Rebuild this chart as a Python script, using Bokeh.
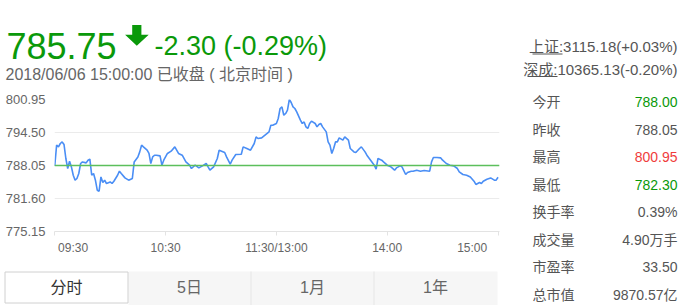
from bokeh.plotting import figure
from bokeh.layouts import row, column
from bokeh.models import (Label, Span, BoxAnnotation, PolyAnnotation, FixedTicker,
                          NumeralTickFormatter, Range1d)
from bokeh.embed import file_html
from bokeh.resources import INLINE

# ---------------- data ----------------
minutes = [0, 1, 2, 3, 4, 5, 6, 7, 8, 9, 10, 11, 12, 13, 14, 15, 17, 18, 19, 20,
           21, 22, 23, 24, 25, 26, 27, 28, 30, 31, 32, 34, 35, 36, 38, 40, 42, 43, 45, 46,
           47, 48, 50, 51, 52, 53, 54, 55, 57, 58, 59, 61, 63, 65, 67, 69, 71, 73, 74, 76,
           78, 80, 82, 83, 84, 86, 88, 89, 92, 93, 95, 96, 98, 101, 102, 104, 106, 108, 109, 110,
           112, 115, 116, 117, 118, 120, 121, 122, 123, 124, 125, 126, 127, 128, 129, 130, 131, 133, 134, 135,
           136, 137, 138, 139, 141, 142, 143, 144, 145, 147, 148, 149, 150, 151, 152, 153, 154, 156, 157, 159,
           160, 162, 163, 165, 166, 168, 169, 171, 173, 174, 175, 177, 178, 180, 182, 184, 185, 187, 188, 190,
           191, 193, 194, 196, 198, 200, 203, 204, 205, 207, 209, 210, 212, 214, 216, 218, 219, 221, 223, 225,
           227, 228, 230, 231, 232, 234, 236, 238, 239, 240]
prices = [788.00, 792.02, 791.69, 792.35, 792.66, 792.16, 789.42, 787.46, 788.89, 787.78,
          786.15, 785.18, 785.51, 786.49, 788.44, 788.75, 788.56, 789.09, 789.28, 786.15,
          786.49, 785.18, 783.22, 783.03, 785.82, 784.73, 785.18, 784.53, 784.84, 784.53,
          784.98, 786.15, 786.94, 786.49, 785.63, 785.18, 785.51, 788.75, 789.73, 790.71,
          792.02, 791.69, 791.04, 790.40, 788.44, 789.73, 790.06, 790.06, 789.93, 788.11,
          789.09, 790.40, 790.85, 791.69, 790.40, 790.06, 788.75, 788.11, 787.46, 788.11,
          787.58, 787.97, 788.44, 787.78, 787.13, 787.78, 789.42, 791.04, 790.59, 789.73,
          788.30, 789.09, 790.20, 790.26, 791.69, 791.37, 791.04, 792.35, 793.64, 793.33,
          793.45, 794.31, 794.62, 795.93, 795.93, 796.26, 797.24, 799.19, 799.50, 797.88,
          798.21, 798.86, 800.95, 800.37, 799.50, 799.19, 798.53, 796.91, 796.26, 796.57,
          795.60, 795.28, 796.26, 796.71, 796.26, 795.60, 796.07, 796.26, 795.60, 794.62,
          792.66, 792.02, 790.40, 791.37, 792.66, 792.66, 793.45, 793.00, 793.64, 793.00,
          791.37, 790.71, 790.59, 791.37, 791.69, 790.71, 790.06, 789.09, 788.11, 787.33,
          789.42, 789.09, 788.75, 788.11, 787.78, 787.13, 787.58, 787.97, 787.78, 786.29,
          786.68, 786.94, 786.94, 787.13, 786.94, 787.07, 786.94, 788.75, 789.61, 789.61,
          789.54, 789.09, 788.44, 788.11, 787.97, 787.46, 786.80, 786.29, 786.15, 785.82,
          784.98, 784.34, 784.73, 784.53, 784.98, 785.37, 785.63, 785.18, 785.18, 785.75]
assert len(minutes) == len(prices)

prev_close = 788.05
last_price = 785.75
change = -2.30
change_pct = -0.29
timestamp = "2018/06/06 15:00:00"
status = "已收盘 ( 北京时间 )"

y_ticks = [775.15, 781.60, 788.05, 794.50, 800.95]
x_ticks = [0, 60, 120, 180, 240]
x_tick_labels = ["09:30", "10:30", "11:30/13:00", "14:00", "15:00"]

index_lines = ["上证:3115.18(+0.03%)", "深成:10365.13(-0.20%)"]
panel_labels = ["今开", "昨收", "最高", "最低", "换手率", "成交量", "市盈率", "总市值"]
panel_values = ["788.00", "788.05", "800.95", "782.30", "0.39%", "4.90万手", "33.50", "9870.57亿"]
tabs = ["分时", "5日", "1月", "1年"]

# ---------------- styles ----------------
GREEN = "#0a990a"
RED = "#f03c3c"
GREY = "#666666"
DARK = "#555555"
FONT = "Liberation Sans, Noto Sans CJK SC"
value_colors = [GREEN, DARK, RED, GREEN, DARK, DARK, DARK, DARK]
NB = "\u00a0"


def blank(w, h):
    f = figure(width=w, height=h, output_backend="svg", toolbar_location=None,
               x_axis_location=None, y_axis_location=None,
               x_range=Range1d(0, 1), y_range=Range1d(0, 1), min_border=0)
    f.outline_line_color = None
    f.grid.grid_line_color = None
    f.background_fill_color = "white"
    f.border_fill_color = "white"
    return f


def put(f, ox, oy, text, X, Y, size, color, align="left", baseline="middle"):
    h = f.height
    f.add_layout(Label(x=X - ox, y=oy + h - Y, x_units="screen", y_units="screen", text=text,
                       text_font=FONT, text_font_size=f"{size}px", text_color=color,
                       text_align=align, text_baseline=baseline))


def box(f, ox, oy, x0, y0, x1, y1, fill, line=None):
    h = f.height
    f.add_layout(BoxAnnotation(left=x0 - ox, right=x1 - ox, top=oy + h - y0, bottom=oy + h - y1,
                               left_units="screen", right_units="screen",
                               top_units="screen", bottom_units="screen",
                               fill_color=fill, fill_alpha=1,
                               line_color=line if line else fill, line_alpha=1 if line else 0,
                               line_width=1))


# ---------------- header ----------------
LW = 520
HH = 85
hdr = blank(LW, HH)
put(hdr, 0, 0, f"{last_price:.2f}", 6, 45, 36, GREEN, baseline="alphabetic")
ax = [131.7, 140.9, 140.9, 148.2, 136.3, 124.6, 131.7, 131.7]
ay = [24.5, 24.5, 34.3, 34.3, 45.2, 34.3, 34.3, 24.5]
hdr.add_layout(PolyAnnotation(xs=ax, ys=[HH - y for y in ay],
                              xs_units="screen", ys_units="screen",
                              fill_color=GREEN, fill_alpha=1, line_color=None))
put(hdr, 0, 0, f"{change:.2f} ({change_pct:.2f}%)", 154, 45, 27, GREEN, baseline="alphabetic")
put(hdr, 0, 0, f"{timestamp}  {status}", 5, 73.5, 16, GREY, baseline="alphabetic")

# ---------------- chart ----------------
CT, CB = HH, 265
FL, FR, FT, FB = 54, 499, 99, 231
p = figure(width=LW, height=CB - CT, output_backend="svg", toolbar_location=None,
           x_range=Range1d(-0.15, 240.8), y_range=Range1d(y_ticks[0], y_ticks[-1]),
           min_border_left=FL, min_border_right=LW - FR,
           min_border_top=FT - CT, min_border_bottom=CB - FB)
p.outline_line_color = None
p.background_fill_color = "white"
p.border_fill_color = "white"

p.yaxis.ticker = FixedTicker(ticks=y_ticks)
p.yaxis.formatter = NumeralTickFormatter(format="0.00")
p.yaxis.axis_line_color = None
p.yaxis.major_tick_line_color = None
p.yaxis.minor_tick_line_color = None
p.yaxis.major_tick_out = 0
p.yaxis.major_tick_in = 0
p.yaxis.major_label_standoff = 9
p.yaxis.major_label_text_font = "Liberation Sans"
p.yaxis.major_label_text_font_size = "13px"
p.yaxis.major_label_text_color = GREY

pads = [NB * 11, "", "", "", ""]
tails = ["", "", "", "", NB * 10]
p.xaxis.ticker = FixedTicker(ticks=x_ticks)
p.xaxis.major_label_overrides = {m: a + t + b for m, t, a, b in zip(x_ticks, x_tick_labels, pads, tails)}
p.xaxis.axis_line_color = "#e3e3e3"
p.xaxis.major_tick_line_color = "#e3e3e3"
p.xaxis.minor_tick_line_color = None
p.xaxis.major_tick_in = 0
p.xaxis.major_tick_out = 4
p.xaxis.major_label_standoff = 5
p.xaxis.major_label_text_font = "Liberation Sans"
p.xaxis.major_label_text_font_size = "12px"
p.xaxis.major_label_text_color = GREY

p.xgrid.grid_line_color = None
p.ygrid.ticker = FixedTicker(ticks=y_ticks)
p.ygrid.grid_line_color = "#ebebeb"

p.add_layout(Span(location=prev_close, dimension="width", line_color="#5cbf5c", line_width=1.5))
p.line(minutes, prices, line_color="#4a8ef5", line_width=1.6)

# ---------------- tabs ----------------
TT = CB
tb = blank(LW, 305 - TT)
box(tb, 0, TT, 128, 271, 497, 306, "#f6f6f6")
box(tb, 0, TT, 250, 271, 251, 306, "#e6e6e6")
box(tb, 0, TT, 373, 271, 374, 306, "#e6e6e6")
box(tb, 0, TT, 4.5, 271.5, 127.5, 302.5, "white", "#d0d0d0")
tab_centers = [66, 189, 312, 435]
for i, (t, cx) in enumerate(zip(tabs, tab_centers)):
    put(tb, 0, TT, t, cx, 287, 16, "#333333" if i == 0 else GREY, align="center")

# ---------------- right panel ----------------
PX = LW
pn = blank(680 - PX, 305)
put(pn, PX, 0, index_lines[0], 677, 46, 15, DARK, align="right")
put(pn, PX, 0, index_lines[1], 677, 68.5, 15, DARK, align="right")
box(pn, PX, 0, 532, 53, 562, 54, DARK)
box(pn, PX, 0, 527, 75.5, 557, 76.5, DARK)
for i, (lab, val, col) in enumerate(zip(panel_labels, panel_values, value_colors)):
    yc = 101.5 + i * 27.5
    put(pn, PX, 0, lab, 532, yc, 14, DARK)
    put(pn, PX, 0, val, 677, yc, 14, col, align="right")

layout = row(column(hdr, row(p), tb, spacing=0), pn, spacing=0)
open("out.html", "w").write(file_html(layout, INLINE))
